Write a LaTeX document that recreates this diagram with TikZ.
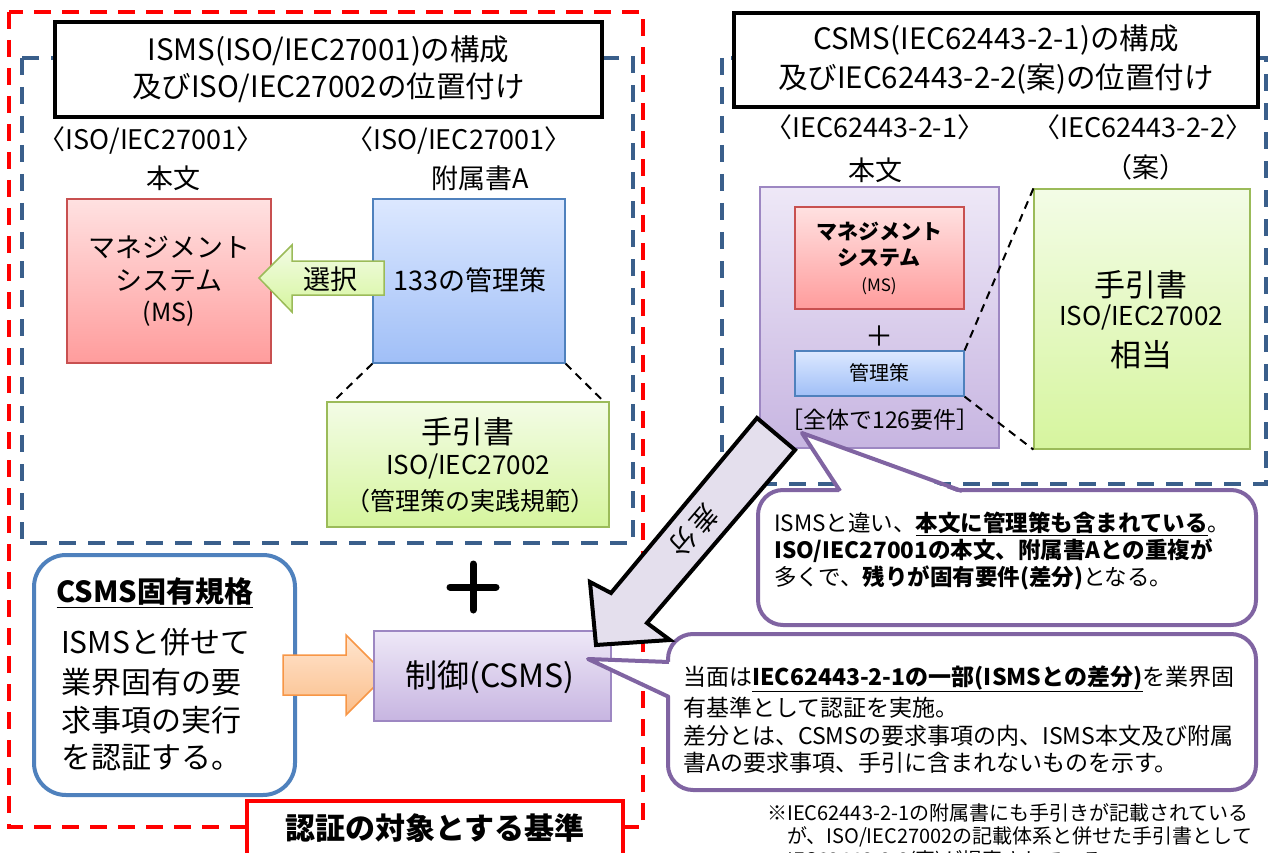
\documentclass[tikz,border=0pt]{standalone}
\usepackage{fontspec}
\setmainfont{Noto Sans CJK JP}
\definecolor{redtop}{HTML}{FFE1E1}
\definecolor{redbot}{HTML}{FF9C9C}
\definecolor{reddraw}{HTML}{C85050}
\definecolor{bluetop}{HTML}{DCE8FF}
\definecolor{bluebot}{HTML}{A0BFF7}
\definecolor{bluedraw}{HTML}{4F81BD}
\definecolor{greentop}{HTML}{F3FCE6}
\definecolor{greenbot}{HTML}{D6F59E}
\definecolor{greendraw}{HTML}{9BBB59}
\definecolor{purptop}{HTML}{EEE8F7}
\definecolor{purpbot}{HTML}{C7B5E1}
\definecolor{purpdraw}{HTML}{9D87C2}
\definecolor{calldraw}{HTML}{8064A2}
\definecolor{orgtop}{HTML}{FFE5CF}
\definecolor{orgbot}{HTML}{FBBE8A}
\definecolor{orgdraw}{HTML}{F79646}
\definecolor{bigfill}{HTML}{E4DFED}
\definecolor{dashblue}{HTML}{3A5F8B}
\newcommand\myfs[1]{\fontsize{#1}{#1}\selectfont}
\begin{document}
\begin{tikzpicture}[x=1pt,y=-1pt,
  t/.style={inner sep=0pt},
  tw/.style={inner sep=0pt, anchor=west},
  box/.style={inner sep=0pt, line width=1.2pt},
  redbox/.style={box, draw=reddraw, top color=redtop, bottom color=redbot},
  bluebox/.style={box, draw=bluedraw, top color=bluetop, bottom color=bluebot},
  greenbox/.style={box, draw=greendraw, top color=greentop, bottom color=greenbot},
  purpbox/.style={box, draw=purpdraw, top color=purptop, bottom color=purpbot},
  titlebox/.style={draw=black, line width=4pt, fill=white, inner sep=0pt, align=center},
  reddash/.style={draw=red, line width=3.5pt, dash pattern=on 17pt off 11pt},
  bluedash/.style={draw=dashblue, line width=3.5pt, dash pattern=on 17pt off 12pt},
  guide/.style={draw=black, line width=2pt, dash pattern=on 8pt off 6pt},
  callout/.style={draw=calldraw, line width=4pt, fill=white, rounded corners=25pt, inner sep=0pt},
]
\useasboundingbox (0,0) rectangle (1269,853);

% frames
\draw[reddash] (9,12) rectangle (643,827);
\draw[bluedash] (22,58) rectangle (633,543);
\draw[bluedash] (722,58) rectangle (1266,484);

% titles
\node[titlebox, minimum width=547pt, minimum height=95pt, font=\fontsize{29.5}{37}\selectfont] (t1) at (328.5,69.5)
  {ISMS(ISO/IEC27001)の構成\\及びISO/IEC27002の位置付け};
\node[titlebox, minimum width=524pt, minimum height=94pt, font=\fontsize{29.5}{39}\selectfont] (t2) at (996,60)
  {CSMS(IEC62443-2-1)の構成\\及びIEC62443-2-2(案)の位置付け};

% headers
\node[t] (h1a) at (151,140) {\myfs{27}〈ISO/IEC27001〉};
\node[t] (h1b) at (173,178) {\myfs{27}本文};
\node[t] (h2a) at (459,140) {\myfs{27}〈ISO/IEC27001〉};
\node[t] (h2b) at (480,178) {\myfs{27}附属書A};
\node[t] (h3a) at (875,127) {\myfs{27}〈IEC62443-2-1〉};
\node[t] (h3b) at (875,170) {\myfs{27}本文};
\node[t] (h4a) at (1143,127) {\myfs{27}〈IEC62443-2-2〉};
\node[t] (h4b) at (1146,167) {\myfs{27}（案）};

% left group
\node[redbox, minimum width=204pt, minimum height=164pt] (ms) at (169,281) {};
\node[t] (ms1) at (169,247) {\myfs{27}マネジメント};
\node[t] (ms2) at (169,281) {\myfs{27}システム};
\node[t] (ms3) at (169,314) {\myfs{25}(MS)};
\node[bluebox, minimum width=192pt, minimum height=164pt] (ctrl) at (469,281) {};
\node[t] (ctrlt) at (470,280) {\myfs{27}133の管理策};
\draw[greendraw, line width=1.5pt, top color=greentop, bottom color=greenbot]
  (384,261) -- (292,261) -- (292,245) -- (259,278) -- (292,312) -- (292,295) -- (384,295) -- cycle;
\node[t] (selt) at (330,279) {\myfs{27}選択};
\node[greenbox, minimum width=282pt, minimum height=125pt] (g1) at (468,464.5) {};
\node[t] (g1a) at (468,432) {\myfs{31}手引書};
\node[t] (g1b) at (468,467) {\myfs{26}ISO/IEC27002};
\node[t] (g1c) at (470,501) {\myfs{25}（管理策の実践規範）};
\draw[guide] (ctrl.south west) -- ([xshift=6pt,yshift=-1pt]g1.north west);
\draw[guide] (ctrl.south east) -- ([xshift=-5pt,yshift=-1pt]g1.north east);

% right group
\node[purpbox, minimum width=239pt, minimum height=261pt] (pb) at (879.5,317.5) {};
\node[redbox, minimum width=169pt, minimum height=102pt] (ms4) at (879.5,258) {};
\node[t] (ms4a) at (879,232) {\myfs{21}\bfseries マネジメント};
\node[t] (ms4b) at (879,258) {\myfs{21}\bfseries システム};
\node[t] (ms4c) at (879,286) {\myfs{17}(MS)};
\node[t] (plus2) at (879,336) {\myfs{28}＋};
\node[bluebox, minimum width=169pt, minimum height=45pt] (ctrl2) at (879.5,373.5) {};
\node[t] (ctrl2t) at (879.5,373) {\myfs{20}管理策};
\node[t] (req) at (880,420) {\myfs{23}［全体で126要件］};
\node[greenbox, minimum width=216pt, minimum height=260pt] (g2) at (1142,319) {};
\node[t] (g2a) at (1141,285) {\myfs{31}手引書};
\node[t] (g2b) at (1141,318) {\myfs{26}ISO/IEC27002};
\node[t] (g2c) at (1141,355) {\myfs{31}相当};
\draw[guide] (ctrl2.north east) -- (g2.north west);
\draw[guide] (ctrl2.south east) -- (g2.south west);

% bottom-left
\node[draw=bluedraw, line width=4pt, fill=white, rounded corners=32pt,
  minimum width=261pt, minimum height=240pt, inner sep=0pt] (csms) at (164.5,675) {};
\node[t] (csmst) at (155,593) {\myfs{29}\bfseries\underline{CSMS固有規格}};
\node[tw] (c1) at (61,642) {\myfs{30}ISMSと併せて};
\node[tw] (c2) at (61,682) {\myfs{30}業界固有の要};
\node[tw] (c3) at (61,720) {\myfs{30}求事項の実行};
\node[tw] (c4) at (61,758) {\myfs{30}を認証する。};
\draw[orgdraw, line width=1.5pt, top color=orgtop, bottom color=orgbot]
  (283,655) -- (346,655) -- (346,635) -- (386,675) -- (346,715) -- (346,695) -- (283,695) -- cycle;
\node[purpbox, minimum width=237pt, minimum height=90pt] (ctrl3) at (492.5,676) {};
\node[t] (ctrl3t) at (490,677) {\myfs{32}制御(CSMS)};
\draw[line width=7pt, line cap=round] (450,587) -- (496,587);
\draw[line width=7pt, line cap=round] (473,564) -- (473,610);

% callouts
\node[callout, minimum width=588pt, minimum height=156pt] (co2) at (962,712) {};
\coordinate (co2tip) at (588,659);
\fill[white] (672,662) -- (co2tip) -- (672,697) -- cycle;
\draw[calldraw, line width=4pt, line join=round] (669,662) -- (co2tip) -- (669,697);
\node[tw] (co2a) at (683,679) {\myfs{23}当面は\underline{\bfseries IEC62443-2-1の一部(ISMSとの差分)}を業界固};
\node[tw] (co2b) at (683,708) {\myfs{23}有基準として認証を実施。};
\node[tw] (co2c) at (683,736) {\myfs{23}差分とは、CSMSの要求事項の内、ISMS本文及び附属};
\node[tw] (co2d) at (683,763) {\myfs{23}書Aの要求事項、手引に含まれないものを示す。};

\node[callout, minimum width=498pt, minimum height=135pt] (co1) at (1007,557.5) {};
\coordinate (co1tip) at (802,433);
\fill[white] (840,494) -- (co1tip) -- (962,494) -- cycle;
\draw[calldraw, line width=4pt, line join=round] (840,491) -- (co1tip) -- (962,491);
\node[tw] (co1a) at (774,524) {\myfs{22.5}ISMSと違い、\underline{\bfseries 本文に管理策も含まれている}。};
\node[tw] (co1b) at (774,551) {\myfs{22.5}\bfseries ISO/IEC27001の本文、附属書Aとの重複が};
\node[tw] (co1c) at (774,578) {\myfs{22.5}多くで、{\bfseries 残りが固有要件(差分)}となる。};

% footnote
\node[tw] (fn1) at (767,813) {\myfs{20}※IEC62443-2-1の附属書にも手引きが記載されている};
\node[tw] (fn2) at (767,837) {\myfs{20}　が、ISO/IEC27002の記載体系と併せた手引書として};
\node[tw] (fn3) at (767,861) {\myfs{20}　IEC62443-2-2(案)が提案されている。};

% big arrow
\draw[fill=bigfill, draw=black, line width=4pt, line join=miter]
  (757,418) -- (795,450) -- (647,623) -- (670,640) -- (596,645) -- (590,582) -- (611,593) -- cycle;
\node[t, rotate=-130.5] (diff) at (694,531) {\myfs{27}差\hspace{4pt}分};

% certification label
\node[draw=red, line width=3.5pt, fill=white, minimum width=376pt, minimum height=79pt, inner sep=0pt] (cert) at (435,840.5) {};
\node[t] (certt) at (435,828) {\myfs{30}\bfseries 認証の対象とする基準};
\end{tikzpicture}
\end{document}
